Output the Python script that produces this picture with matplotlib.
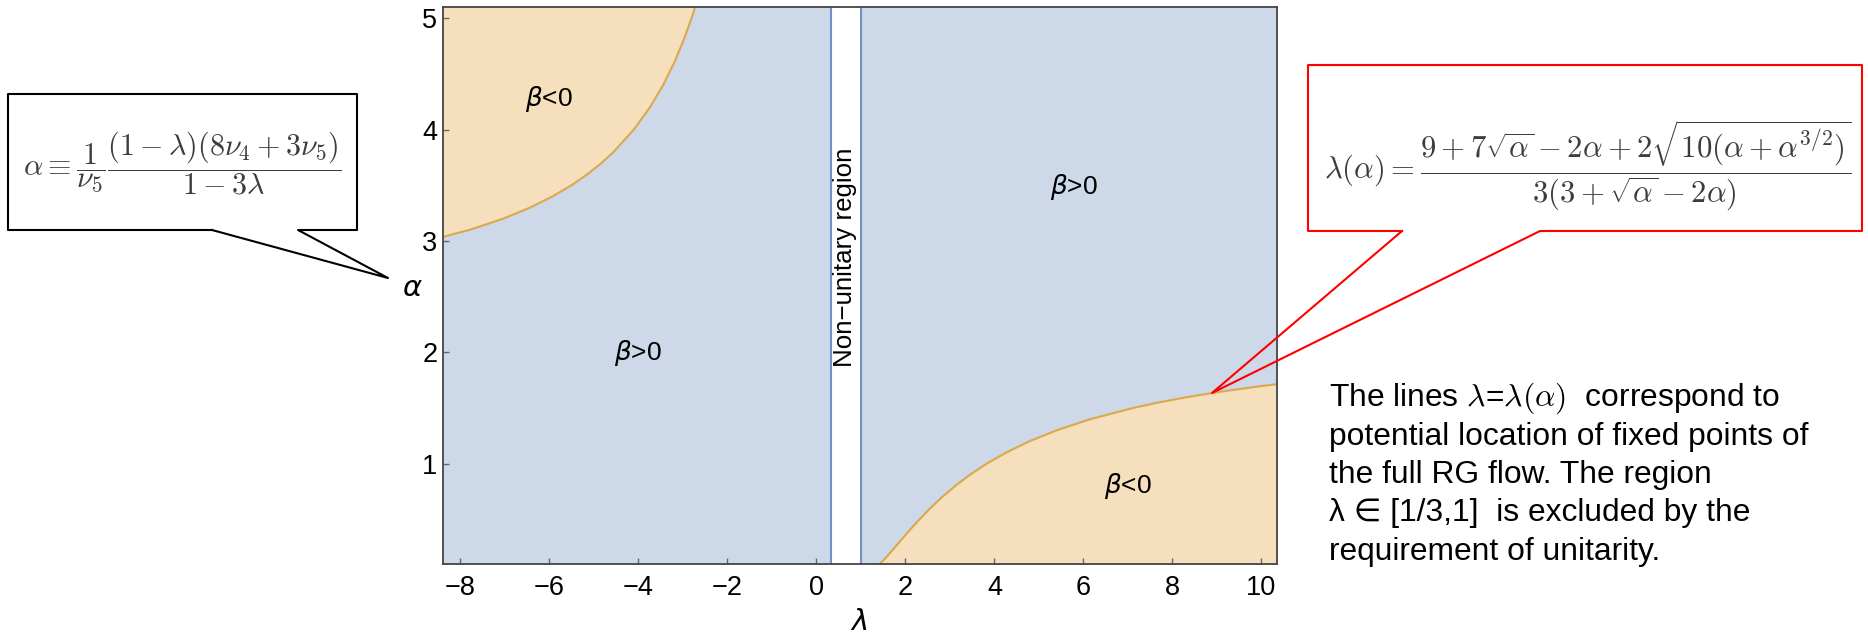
import matplotlib
matplotlib.use("Agg")
import matplotlib.pyplot as plt
from matplotlib.lines import Line2D

# boundary beta=0: lower-right branch (lambda > 1)
alpha_low = [0.05, 0.1, 0.15, 0.2, 0.25, 0.3, 0.4, 0.5, 0.6, 0.7, 0.8, 0.9,
             1.0, 1.1, 1.2, 1.3, 1.4, 1.5, 1.55, 1.6, 1.65, 1.7, 1.72]
lam_low = [1.284, 1.423, 1.544, 1.655, 1.764, 1.871, 2.087, 2.314, 2.557,
           2.822, 3.116, 3.447, 3.824, 4.262, 4.777, 5.396, 6.155, 7.111,
           7.689, 8.356, 9.132, 10.048, 10.461]

# upper-left branch (lambda < 0)
alpha_up = [2.95, 3.0, 3.1, 3.2, 3.3, 3.4, 3.5, 3.6, 3.7, 3.8, 4.0, 4.2,
            4.4, 4.6, 4.8, 5.0, 5.1, 5.2]
lam_up = [-9.31, -8.736, -7.788, -7.038, -6.429, -5.926, -5.502, -5.140,
          -4.827, -4.555, -4.101, -3.739, -3.442, -3.195, -2.985, -2.805,
          -2.724, -2.649]

nonunitary = [1 / 3, 1.0]
xlim = (-8.39, 10.35)
ylim = (0.1, 5.1)
xticks = [-8, -6, -4, -2, 0, 2, 4, 6, 8, 10]
yticks = [1, 2, 3, 4, 5]

W, H = 1868, 633
blue = "#cdd8e9"
blue_line = "#7391c4"
orange = "#f5dfbc"
orange_line = "#dca84c"

fig = plt.figure(figsize=(W / 100, H / 100), dpi=100)
renderer = fig.canvas.get_renderer()


def fx(x):
    return x / W


def fy(y):
    return 1 - y / H


def fit(t, target, vertical=False):
    # scale the font so the text spans `target` pixels
    bb = t.get_window_extent(renderer)
    size = bb.height if vertical else bb.width
    t.set_fontsize(t.get_fontsize() * target / size)


ax = fig.add_axes([fx(443), fy(564), fx(1277) - fx(443), fy(7) - fy(564)])
ax.set_facecolor(blue)
ax.fill_betweenx(alpha_low, lam_low, xlim[1] + 1, color=orange, lw=0)
ax.fill_betweenx(alpha_up, xlim[0] - 1, lam_up, color=orange, lw=0)
ax.plot(lam_low, alpha_low, color=orange_line, lw=1.5)
ax.plot(lam_up, alpha_up, color=orange_line, lw=1.5)
ax.axvspan(nonunitary[0], nonunitary[1], color="white", lw=0)
for v in nonunitary:
    ax.axvline(v, color=blue_line, lw=1.5)
ax.set_xlim(xlim)
ax.set_ylim(ylim)
ax.set_xticks(xticks)
ax.set_yticks(yticks)
for s in ax.spines.values():
    s.set_color("#444444")
    s.set_linewidth(1.3)
ax.tick_params(direction="in", length=4, width=1, color="#666666",
               labelsize=19.5, pad=8)
ax.tick_params(axis="y", pad=4)
for lab in ax.get_xticklabels() + ax.get_yticklabels():
    lab.set_family("Liberation Sans")

lab_kw = dict(fontsize=19, family="Liberation Sans", ha="center", va="center",
              math_fontfamily="dejavusans")
ax.text(-6.02, 4.27, r"$\beta$<0", **lab_kw)
ax.text(-4.0, 1.99, r"$\beta$>0", **lab_kw)
ax.text(5.78, 3.48, r"$\beta$>0", **lab_kw)
ax.text(6.99, 0.80, r"$\beta$<0", **lab_kw)
t = ax.text(0.65, 2.85, "Non\u2212unitary region", rotation=90, fontsize=20,
            family="Liberation Sans", ha="center", va="center")
fit(t, 219, vertical=True)

fig.text(fx(412), fy(288), "\u03b1", fontsize=21, style="italic",
         family="DejaVu Sans", ha="center", va="center")
fig.text(fx(860), fy(622), "\u03bb", fontsize=21, style="italic",
         family="DejaVu Sans", ha="center", va="center")

# callouts
left_box = [(212, 230), (8, 230), (8, 94), (357, 94), (357, 230),
            (298, 230), (388, 278), (212, 230)]
right_box = [(1402, 231), (1308, 231), (1308, 65), (1862, 65), (1862, 231),
             (1540, 231), (1212, 393), (1402, 231)]
fig.add_artist(Line2D([fx(p[0]) for p in left_box], [fy(p[1]) for p in left_box],
                      color="black", lw=1.5))
fig.add_artist(Line2D([fx(p[0]) for p in right_box], [fy(p[1]) for p in right_box],
                      color="red", lw=1.5))

t = fig.text(fx(182), fy(163),
             r"$\alpha \equiv \dfrac{1}{\nu_5}\dfrac{(1-\lambda)(8\nu_4+3\nu_5)}{1-3\lambda}$",
             fontsize=19, color="#3c3c3c", ha="center", va="center",
             math_fontfamily="cm")
fit(t, 319)
t = fig.text(fx(1588), fy(165),
             r"$\lambda(\alpha) = \dfrac{9+7\sqrt{\alpha}-2\alpha+2\sqrt{10(\alpha+\alpha^{3/2})}}{3(3+\sqrt{\alpha}-2\alpha)}$",
             fontsize=19, color="#3c3c3c", ha="center", va="center",
             math_fontfamily="cm")
fit(t, 528)

note = [r"The lines $\lambda$=$\lambda(\alpha)$  correspond to",
        "potential location of fixed points of",
        "the full RG flow. The region",
        "\u03bb \u2208 [1/3,1]  is excluded by the",
        "requirement of unitarity."]
texts = []
for i, line in enumerate(note):
    texts.append(fig.text(fx(1329), fy(406 + 38.5 * i), line, fontsize=20,
                          family=["Liberation Sans", "DejaVu Sans"],
                          va="baseline", ha="left", math_fontfamily="cm"))
fit(texts[1], 478)
for tt in texts:
    tt.set_fontsize(texts[1].get_fontsize())

fig.savefig("out.png", dpi=100)
